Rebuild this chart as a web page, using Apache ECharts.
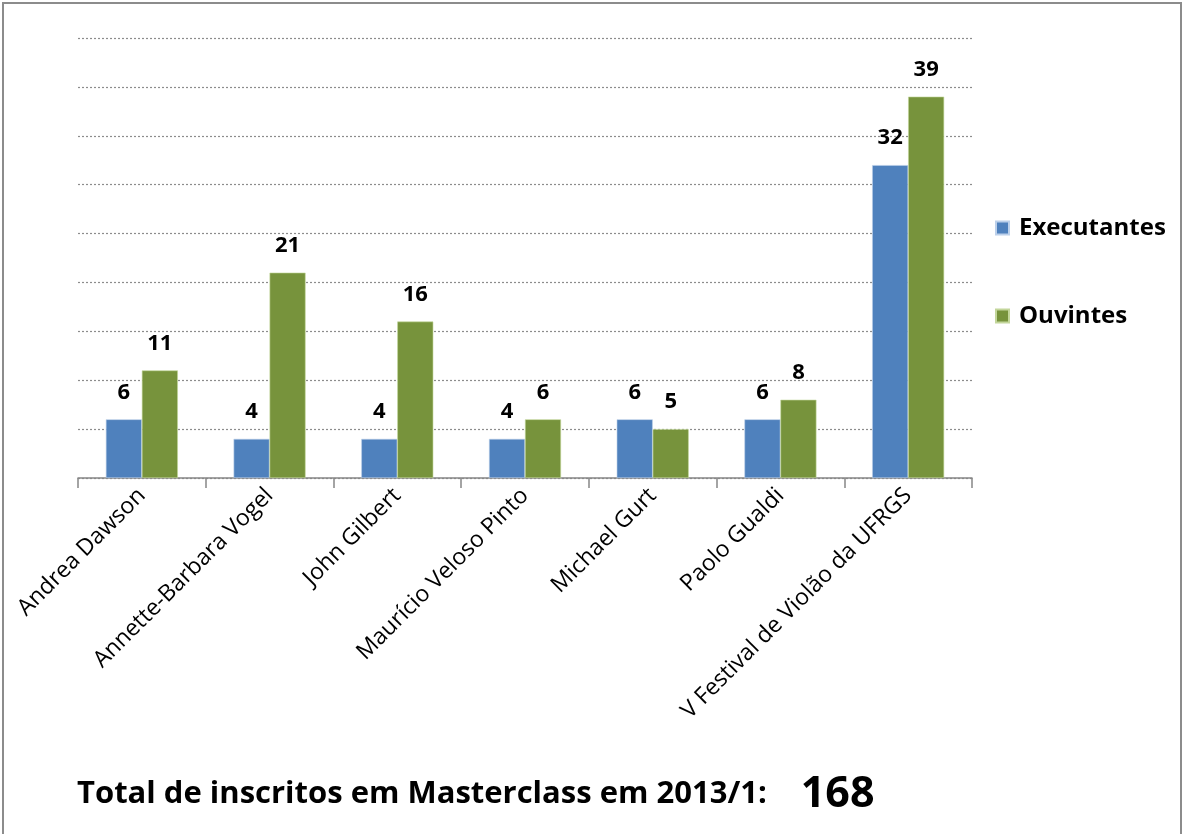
<!DOCTYPE html>
<html>
<head>
<meta charset="utf-8">
<script src="https://cdn.jsdelivr.net/npm/echarts@6/dist/echarts.min.js"></script>
<style>
    html, body { margin: 0; padding: 0; background: #fff; }
    #chart { width: 1185px; height: 834px; }
</style>
</head>
<body>
<div id="chart"></div>
<script>
    var categories = ['Andrea Dawson', 'Annette-Barbara Vogel', 'John Gilbert', 'Maurício Veloso Pinto', 'Michael Gurt', 'Paolo Gualdi', 'V Festival de Violão da UFRGS'];
    var executantes = [6, 4, 4, 4, 6, 6, 32];
    var ouvintes = [11, 21, 16, 6, 5, 8, 39];
    var totalText = 'Total de inscritos em Masterclass em 2013/1:';
    var totalValue = 168;

    var font = '"Open Sans", "Liberation Sans", sans-serif';
    var chart = echarts.init(document.getElementById('chart'));
    chart.setOption({
        animation: false,
        backgroundColor: '#fff',
        textStyle: { fontFamily: font },
        graphic: [{
            type: 'rect',
            shape: { x: 3, y: 3, width: 1178, height: 850 },
            style: { fill: 'none', stroke: '#8c8c8c', lineWidth: 2 }
        }],
        title: {
            text: '{a|' + totalText + '}{b|' + totalValue + '}',
            left: 72,
            top: 768,
            textStyle: {
                rich: {
                    a: { fontSize: 31, fontWeight: 'bold', color: '#000', fontFamily: font, padding: [0, 34, 0, 0] },
                    b: { fontSize: 43, fontWeight: 'bold', color: '#000', fontFamily: font }
                }
            }
        },
        legend: {
            orient: 'vertical',
            left: 990,
            top: 211,
            itemGap: 64,
            itemWidth: 13,
            itemHeight: 13,
            icon: 'rect',
            data: ['Executantes', 'Ouvintes'],
            textStyle: { fontSize: 24, fontWeight: 'bold', color: '#000', padding: [0, 0, 0, 5] }
        },
        grid: { left: 78, right: 213, top: 38, bottom: 356 },
        xAxis: {
            type: 'category',
            data: categories,
            axisLine: { show: true, lineStyle: { color: '#868686', width: 1.5 } },
            axisTick: { show: true, alignWithLabel: false, interval: 0, length: 10, lineStyle: { color: '#868686', width: 1.5 } },
            axisLabel: { rotate: 45, fontSize: 23, color: '#000', margin: 14, interval: 0 }
        },
        yAxis: {
            type: 'value',
            min: 0,
            max: 45,
            interval: 5,
            axisLine: { show: false },
            axisTick: { show: false },
            axisLabel: { show: false },
            splitLine: { lineStyle: { color: '#8c8c8c', type: [2, 2], width: 1.2 } }
        },
        series: [{
            name: 'Executantes',
            type: 'bar',
            data: executantes,
            barWidth: 36,
            barGap: '0%',
            itemStyle: { color: '#4F81BD', borderColor: '#bcd0ea', borderWidth: 0.6 },
            label: { show: true, position: 'top', distance: 16, fontSize: 22, fontWeight: 'bold', color: '#000' }
        }, {
            name: 'Ouvintes',
            type: 'bar',
            data: ouvintes,
            barWidth: 36,
            itemStyle: { color: '#77933C', borderColor: '#c3d69b', borderWidth: 0.6 },
            label: { show: true, position: 'top', distance: 16, fontSize: 22, fontWeight: 'bold', color: '#000' }
        }]
    });
</script>
</body>
</html>
